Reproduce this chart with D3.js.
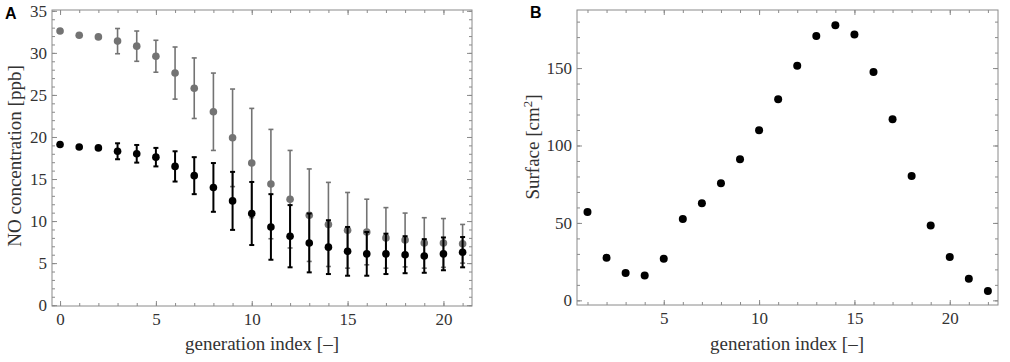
<!DOCTYPE html>
<html>
<head>
<meta charset="utf-8">
<script src="https://cdn.jsdelivr.net/npm/d3@7"></script>
<style>
  body { margin: 0; background: #fff; }
  svg { display: block; }
</style>
</head>
<body>
<svg id="chart" width="1010" height="362"></svg>
<script>
// ---- data ----
// Panel A: NO concentration by generation index
const genA = [0,1,2,3,4,5,6,7,8,9,10,11,12,13,14,15,16,17,18,19,20,21];
const greyMean = [32.6,32.1,31.9,31.4,30.8,29.6,27.6,25.8,23.0,19.9,16.9,14.4,12.6,10.7,9.6,8.9,8.7,8.0,7.75,7.4,7.4,7.3];
const greyErr  = [0,0,0,1.5,1.8,1.9,3.1,3.6,4.6,5.8,6.5,6.5,5.8,5.5,5.0,4.5,3.9,3.6,3.2,3.0,2.9,2.3];
const blackMean = [19.1,18.8,18.7,18.3,18.0,17.6,16.5,15.4,14.0,12.4,10.9,9.3,8.2,7.4,6.9,6.4,6.1,6.1,6.0,5.85,6.1,6.3];
const blackErr  = [0,0,0,0.95,1.05,1.1,1.8,2.2,2.9,3.45,3.75,3.9,3.7,3.5,3.2,2.9,2.6,2.4,2.2,2.0,1.95,1.8];
// Panel B: surface by generation index
const genB = [1,2,3,4,5,6,7,8,9,10,11,12,13,14,15,16,17,18,19,20,21,22];
const surface = [57.0,27.5,17.6,16.1,26.9,52.5,62.7,75.6,91.1,109.8,129.8,151.5,170.7,177.6,171.6,147.5,116.9,80.3,48.4,28.0,14.0,6.0];

const svg = d3.select("#chart");
const frameColor = "#8a8a8a";
const textColor = "#333";
const serif = "Liberation Serif, Times New Roman, serif";

function framedAxes(g, x, y, xMajor, xMinor, yMajor, yMinor) {
  const [x0, x1] = x.range(), [y0, y1] = y.range();
  // bottom
  g.append("g").attr("transform", "translate(0," + y0 + ")")
    .call(d3.axisBottom(x).tickValues(xMinor).tickSize(-3).tickFormat(""));
  g.append("g").attr("transform", "translate(0," + y0 + ")")
    .call(d3.axisBottom(x).tickValues(xMajor).tickSize(-5).tickPadding(7));
  // top
  g.append("g").attr("transform", "translate(0," + y1 + ")")
    .call(d3.axisTop(x).tickValues(xMinor).tickSize(-3).tickFormat(""));
  g.append("g").attr("transform", "translate(0," + y1 + ")")
    .call(d3.axisTop(x).tickValues(xMajor).tickSize(-5).tickFormat(""));
  // left
  g.append("g").attr("transform", "translate(" + x0 + ",0)")
    .call(d3.axisLeft(y).tickValues(yMinor).tickSize(-3).tickFormat(""));
  g.append("g").attr("transform", "translate(" + x0 + ",0)")
    .call(d3.axisLeft(y).tickValues(yMajor).tickSize(-5).tickPadding(5));
  // right
  g.append("g").attr("transform", "translate(" + x1 + ",0)")
    .call(d3.axisRight(y).tickValues(yMinor).tickSize(-3).tickFormat(""));
  g.append("g").attr("transform", "translate(" + x1 + ",0)")
    .call(d3.axisRight(y).tickValues(yMajor).tickSize(-5).tickFormat(""));
  g.selectAll(".domain").remove();
  g.selectAll(".tick line").attr("stroke", frameColor).attr("stroke-width", 1);
  g.selectAll(".tick text")
    .attr("font-family", serif).attr("font-size", "17px").attr("fill", textColor);
  g.append("rect")
    .attr("x", x0).attr("y", y1)
    .attr("width", x1 - x0).attr("height", y0 - y1)
    .attr("fill", "none").attr("stroke", frameColor).attr("stroke-width", 1);
}

// ---------- Panel A ----------
const xA = d3.scaleLinear().domain([-0.42, 21.49]).range([52, 472]);
const yA = d3.scaleLinear().domain([-0.1, 35.1]).range([306, 10]);
const gA = svg.append("g");
framedAxes(gA, xA, yA, [0,5,10,15,20], d3.range(0, 22), [0,5,10,15,20,25,30,35], d3.range(0, 36));

function errorSeries(g, means, errs, color, barWidth) {
  const data = genA.map((gi, i) => ({ g: gi, m: means[i], e: errs[i] }));
  const bars = g.append("g").selectAll("g").data(data.filter(d => d.e > 0)).join("g")
    .attr("stroke", color).attr("stroke-width", barWidth);
  bars.append("line")
    .attr("x1", d => xA(d.g)).attr("x2", d => xA(d.g))
    .attr("y1", d => yA(d.m - d.e)).attr("y2", d => yA(d.m + d.e));
  bars.append("line")
    .attr("x1", d => xA(d.g) - 2.5).attr("x2", d => xA(d.g) + 2.5)
    .attr("y1", d => yA(d.m - d.e)).attr("y2", d => yA(d.m - d.e));
  bars.append("line")
    .attr("x1", d => xA(d.g) - 2.5).attr("x2", d => xA(d.g) + 2.5)
    .attr("y1", d => yA(d.m + d.e)).attr("y2", d => yA(d.m + d.e));
  g.append("g").selectAll("circle").data(data).join("circle")
    .attr("cx", d => xA(d.g)).attr("cy", d => yA(d.m))
    .attr("r", 3.8).attr("fill", color);
}
errorSeries(gA, greyMean, greyErr, "#737373", 1.6);
errorSeries(gA, blackMean, blackErr, "#000", 2);

gA.append("text")
  .attr("x", 5).attr("y", 19)
  .attr("font-family", "Liberation Sans, Arial, sans-serif")
  .attr("font-weight", "bold").attr("font-size", "16px")
  .text("A");
gA.append("text")
  .attr("transform", "translate(21,156) rotate(-90)")
  .attr("text-anchor", "middle")
  .attr("font-family", serif).attr("font-size", "19px").attr("fill", textColor)
  .text("NO concentration [ppb]");
gA.append("text")
  .attr("x", 262).attr("y", 350)
  .attr("text-anchor", "middle")
  .attr("font-family", serif).attr("font-size", "19px").attr("fill", textColor)
  .text("generation index [\u2013]");

// ---------- Panel B ----------
const xB = d3.scaleLinear().domain([0.45, 22.53]).range([577, 998]);
const yB = d3.scaleLinear().domain([-3, 187.5]).range([305, 10]);
const gB = svg.append("g");
framedAxes(gB, xB, yB, [5,10,15,20], d3.range(1, 23), [0,50,100,150], d3.range(0, 190, 10));

gB.append("g").selectAll("circle").data(genB.map((gi, i) => ({ g: gi, v: surface[i] }))).join("circle")
  .attr("cx", d => xB(d.g)).attr("cy", d => yB(d.v))
  .attr("r", 4).attr("fill", "#000");

gB.append("text")
  .attr("x", 530).attr("y", 18)
  .attr("font-family", "Liberation Sans, Arial, sans-serif")
  .attr("font-weight", "bold").attr("font-size", "16px")
  .text("B");
const yLabB = gB.append("text")
  .attr("transform", "translate(539,147) rotate(-90)")
  .attr("text-anchor", "middle")
  .attr("font-family", serif).attr("font-size", "19px").attr("fill", textColor);
yLabB.append("tspan").text("Surface [cm");
yLabB.append("tspan").attr("dy", -7).attr("font-size", "13px").text("2");
yLabB.append("tspan").attr("dy", 7).text("]");
gB.append("text")
  .attr("x", 787).attr("y", 350)
  .attr("text-anchor", "middle")
  .attr("font-family", serif).attr("font-size", "19px").attr("fill", textColor)
  .text("generation index [\u2013]");
</script>
</body>
</html>
